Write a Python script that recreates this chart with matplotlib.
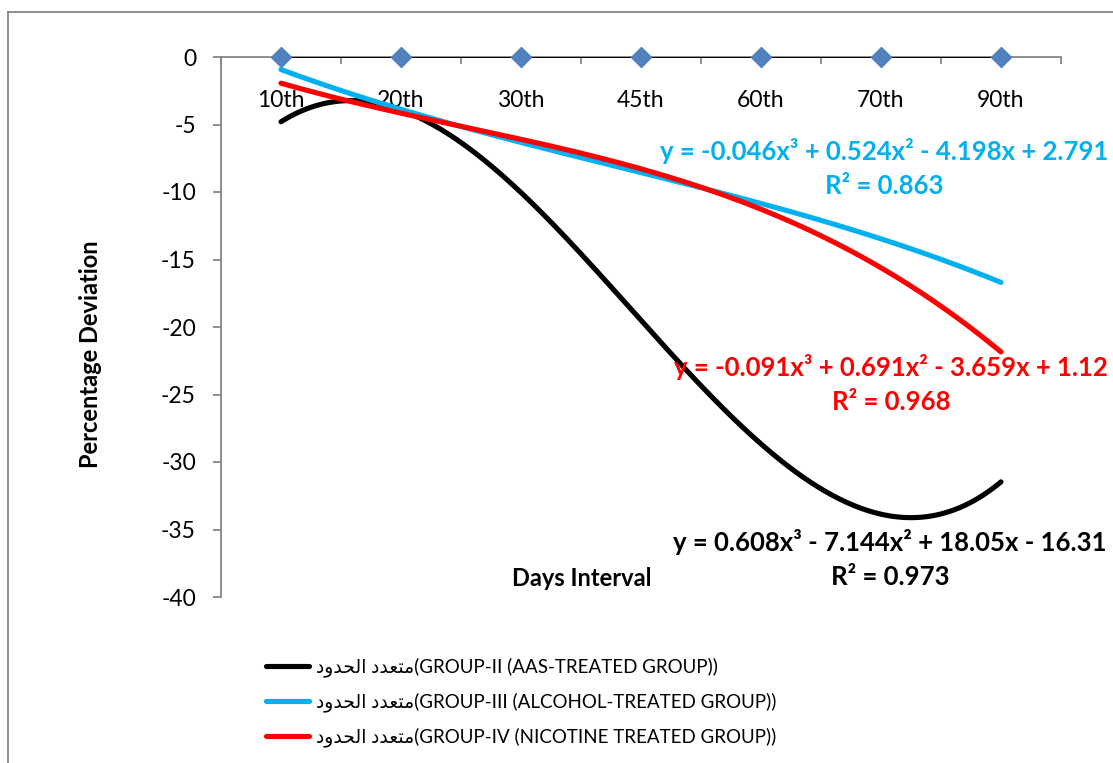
import numpy as np
import matplotlib.pyplot as plt
from matplotlib.lines import Line2D

plt.rcParams['font.family'] = ['Lato', 'DejaVu Sans']
plt.rcParams['axes.unicode_minus'] = False

# === Data ===
days = ['10th', '20th', '30th', '45th', '60th', '70th', '90th']
control = [0, 0, 0, 0, 0, 0, 0]

# polynomial (order 3) trendline coefficients as printed on the chart
coef_aas = [0.608, -7.144, 18.05, -16.31]
coef_alcohol = [-0.046, 0.524, -4.198, 2.791]
coef_nicotine = [-0.091, 0.691, -3.659, 1.12]
r2_aas, r2_alcohol, r2_nicotine = 0.973, 0.863, 0.968

arabic = '\uFEA9\uFEED\uFEAA\uFEA4\uFEDF\uFE8D \uFEA9\uFEAA\uFECC\uFE98\uFEE3'
labels = [arabic + '(GROUP-II (AAS-TREATED GROUP))',
          arabic + '(GROUP-III (ALCOHOL-TREATED GROUP))',
          arabic + '(GROUP-IV (NICOTINE TREATED GROUP))']

c_black = 'black'
c_blue = '#00B0F0'
c_red = '#FF0000'
c_axis = '#868686'

W, H = 1113, 763
fig = plt.figure(figsize=(W / 100, H / 100), dpi=100)
ax = fig.add_axes([221 / W, 1 - 597 / H, 840 / W, 540 / H])

x = np.arange(1, len(days) + 1)
xs = np.linspace(1, len(days), 300)

# group I (control) series
ax.plot(x, control, color='black', lw=1.4, zorder=3)
ax.plot(x, control, 'D', color='#4F81BD', ms=10.5, zorder=4, clip_on=False)

# trendlines
ax.plot(xs, np.polyval(coef_aas, xs), color=c_black, lw=3.7, solid_capstyle='round', zorder=5)
ax.plot(xs, np.polyval(coef_alcohol, xs), color=c_blue, lw=3.7, solid_capstyle='round', zorder=5)
ax.plot(xs, np.polyval(coef_nicotine, xs), color=c_red, lw=3.7, solid_capstyle='round', zorder=6)

ax.set_xlim(0.5, len(days) + 0.5)
ax.set_ylim(-40, 0)
ax.set_yticks(np.arange(-40, 1, 5))
ax.set_xticks(x)
ax.set_xticklabels(days)
ax.set_xticks(np.arange(0.5, len(days) + 1), minor=True)

for s in ['top', 'right']:
    ax.spines[s].set_visible(False)
ax.spines['bottom'].set_position(('data', 0))
ax.spines['bottom'].set_color(c_axis)
ax.spines['left'].set_color(c_axis)
ax.spines['bottom'].set_linewidth(1.3)
ax.spines['left'].set_linewidth(1.3)

ax.tick_params(axis='x', which='major', length=0, pad=24, labelsize=16.5)
ax.tick_params(axis='x', which='minor', length=5, width=1.3, color=c_axis, direction='out')
ax.tick_params(axis='y', length=6, width=1.3, color=c_axis, pad=12, labelsize=16.5)

fig.text(90 / W, 1 - 354 / H, 'Percentage Deviation', rotation=90, fontsize=17,
         fontweight='bold', ha='center', va='center')
fig.text(582 / W, 1 - 578 / H, 'Days Interval', fontsize=17, fontweight='bold',
         ha='center', va='center')


def eq_text(c, r2):
    def num(v):
        return f'{abs(v):g}'
    sgn = lambda v: '+' if v >= 0 else '-'
    first = ('-' if c[0] < 0 else '') + num(c[0])
    return (f'y = {first}x\u00b3 {sgn(c[1])} {num(c[1])}x\u00b2 '
            f'{sgn(c[2])} {num(c[2])}x {sgn(c[3])} {num(c[3])}\nR\u00b2 = {r2:g}')


for coef, r2, col, cx, cy in [(coef_alcohol, r2_alcohol, c_blue, 884, 168),
                              (coef_nicotine, r2_nicotine, c_red, 891, 384),
                              (coef_aas, r2_aas, c_black, 890, 559)]:
    fig.text(cx / W, 1 - cy / H, eq_text(coef, r2), color=col, fontsize=18.5,
             fontweight='bold', ha='center', va='center', multialignment='center',
             linespacing=1.5, zorder=10)

handles = [Line2D([], [], color=c, lw=3.7, solid_capstyle='round')
           for c in [c_black, c_blue, c_red]]
fig.legend(handles, labels, loc='upper left', bbox_to_anchor=(266 / W, 1 - 657 / H),
           frameon=False, fontsize=13.5, handlelength=2.3, handletextpad=0.35,
           labelspacing=0.82, borderpad=0, borderaxespad=0)

# chart area border
fig.add_artist(Line2D([8 / W, 8 / W], [0, 1 - 12 / H], color=c_axis, lw=1.3))
fig.add_artist(Line2D([8 / W, 1], [1 - 12 / H, 1 - 12 / H], color=c_axis, lw=1.3))

fig.savefig('out.png', dpi=100)
